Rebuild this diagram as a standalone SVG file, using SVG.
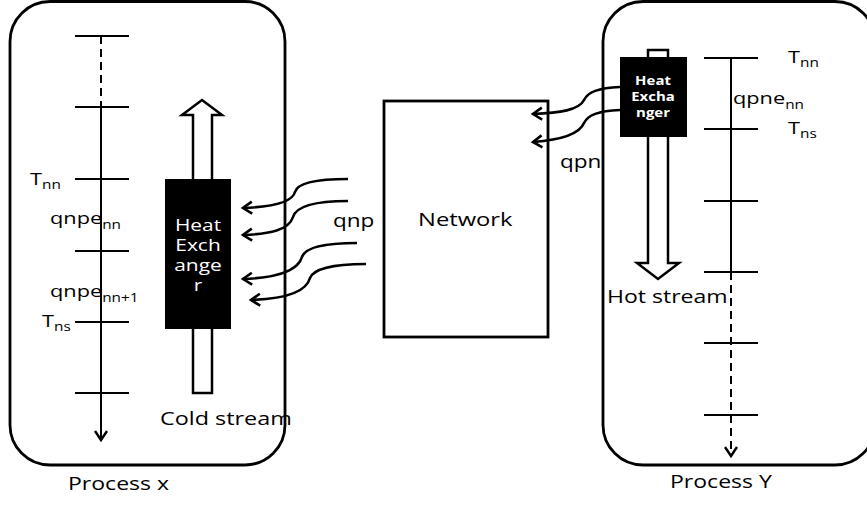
<svg xmlns="http://www.w3.org/2000/svg" width="867" height="506" viewBox="0 0 867 506">
<defs>
<style>
.box{fill:none;stroke:#000;stroke-width:2.8}
.ax{fill:none;stroke:#000;stroke-width:2}
.dash{stroke-dasharray:8 5}
.tick{stroke:#000;stroke-width:2}
.cv{fill:none;stroke:#000;stroke-width:2.6}
.hollow{fill:#fff;stroke:#000;stroke-width:2.5;stroke-linejoin:miter}
.hx{fill:#000}
text{font-family:"Open Sans","DejaVu Sans",sans-serif;fill:#000}
.lbl{font-size:18px}
.sm{font-size:17px}
.sub{font-size:12px}
.hw{fill:#fff;font-size:15.5px;text-anchor:middle}
.hb{fill:#fff;font-size:11.5px;font-weight:bold;text-anchor:middle}
</style>
<marker id="chev" markerUnits="userSpaceOnUse" markerWidth="20" markerHeight="20" viewBox="-12 -10 14 20" refX="0" refY="0" orient="auto">
<path d="M-9,-6 L0,0 L-9,6" fill="none" stroke="#000" stroke-width="2.6"/>
</marker>
<marker id="achev" markerUnits="userSpaceOnUse" markerWidth="20" markerHeight="20" viewBox="-12 -10 14 20" refX="0" refY="0" orient="auto">
<path d="M-9,-6 L0,0 L-9,6" fill="none" stroke="#000" stroke-width="2.4"/>
</marker>
</defs>

<g id="process-x">
<rect class="box" x="10" y="1.5" width="275" height="463.5" rx="40"/>
<text class="lbl" transform="translate(68,490) scale(1.28,1)">Process x</text>
</g>

<g id="process-y">
<rect class="box" x="603" y="1.5" width="272" height="463.5" rx="40"/>
<text class="lbl" transform="translate(670,488) scale(1.28,1)">Process Y</text>
</g>

<g id="axis-x">
<line class="ax dash" x1="101" y1="36" x2="101" y2="107"/>
<line class="ax" x1="101" y1="107" x2="101" y2="440" marker-end="url(#achev)"/>
<line class="tick" x1="75" y1="36" x2="129" y2="36"/>
<line class="tick" x1="75" y1="107" x2="129" y2="107"/>
<line class="tick" x1="75" y1="179" x2="129" y2="179"/>
<line class="tick" x1="75" y1="251" x2="129" y2="251"/>
<line class="tick" x1="75" y1="322" x2="129" y2="322"/>
<line class="tick" x1="75" y1="393" x2="129" y2="393"/>
<text class="sm" transform="translate(30,185) scale(1.28,1)">T<tspan class="sub" dy="4">nn</tspan></text>
<text class="sm" transform="translate(50,224) scale(1.28,1)">qnpe<tspan class="sub" dy="5">nn</tspan></text>
<text class="sm" transform="translate(50,297) scale(1.28,1)">qnpe<tspan class="sub" dy="5">nn+1</tspan></text>
<text class="sm" transform="translate(42,327) scale(1.28,1)">T<tspan class="sub" dy="4">ns</tspan></text>
</g>

<g id="cold-stream">
<polygon class="hollow" points="193,393 193,115 182,115 202,100 222,115 212,115 212,393"/>
<text class="lbl" transform="translate(160,425) scale(1.3,1)">Cold stream</text>
</g>

<g id="heat-exchanger-x">
<rect class="hx" x="165" y="179" width="66" height="150"/>
<text class="hw" transform="translate(198,231) scale(1.35,1)">Heat</text>
<text class="hw" transform="translate(198,251) scale(1.35,1)">Exch</text>
<text class="hw" transform="translate(198,271) scale(1.35,1)">ange</text>
<text class="hw" transform="translate(198,291) scale(1.35,1)">r</text>
</g>

<g id="network">
<rect class="box" x="384" y="101" width="164" height="236"/>
<text class="lbl" transform="translate(418,226) scale(1.32,1)">Network</text>
</g>

<g id="axis-y">
<line class="ax" x1="731" y1="58" x2="731" y2="272"/>
<line class="ax dash" x1="731" y1="272" x2="731" y2="456" stroke-width="2.6" marker-end="url(#achev)"/>
<line class="tick" x1="704" y1="58" x2="758" y2="58"/>
<line class="tick" x1="704" y1="129" x2="758" y2="129"/>
<line class="tick" x1="704" y1="201" x2="758" y2="201"/>
<line class="tick" x1="704" y1="272" x2="758" y2="272"/>
<line class="tick" x1="704" y1="343" x2="758" y2="343"/>
<line class="tick" x1="704" y1="415" x2="758" y2="415"/>
<text class="sm" transform="translate(788,63) scale(1.28,1)">T<tspan class="sub" dy="4">nn</tspan></text>
<text class="sm" transform="translate(733,104) scale(1.28,1)">qpne<tspan class="sub" dy="5">nn</tspan></text>
<text class="sm" transform="translate(788,134) scale(1.28,1)">T<tspan class="sub" dy="4">ns</tspan></text>
</g>

<g id="hot-stream">
<polygon class="hollow" points="648,50 668,50 668,263 679,263 658,279 637,263 648,263"/>
<text class="lbl" transform="translate(607,303) scale(1.28,1)">Hot stream</text>
</g>

<g id="heat-exchanger-y">
<rect class="hx" x="620" y="57" width="67" height="80"/>
<text class="hb" transform="translate(653,85) scale(1.3,1)">Heat</text>
<text class="hb" transform="translate(653,101) scale(1.3,1)">Excha</text>
<text class="hb" transform="translate(653,117) scale(1.3,1)">nger</text>
</g>

<g id="connectors">
<path class="cv" d="M348,179 C312,179 297,184 295,192 C292,203 270,207 243,208" marker-end="url(#chev)"/>
<path class="cv" d="M348,201 C312,201 296,207 293,217 C289,230 270,234 243,235" marker-end="url(#chev)"/>
<path class="cv" d="M357,243 C322,243 305,248 302,257 C298,271 275,278 243,279" marker-end="url(#chev)"/>
<path class="cv" d="M366,264 C330,264 313,270 310,278 C306,293 282,299 251,300" marker-end="url(#chev)"/>
<path class="cv" d="M620,87 C598,88 588,92 584,100 C579,110 560,113 533,114" marker-end="url(#chev)"/>
<path class="cv" d="M620,110 C598,111 588,115 584,123 C579,135 560,140 533,142" marker-end="url(#chev)"/>
<text class="lbl" transform="translate(333,227) scale(1.25,1)">qnp</text>
<text class="lbl" transform="translate(560,168) scale(1.25,1)">qpn</text>
</g>
</svg>
